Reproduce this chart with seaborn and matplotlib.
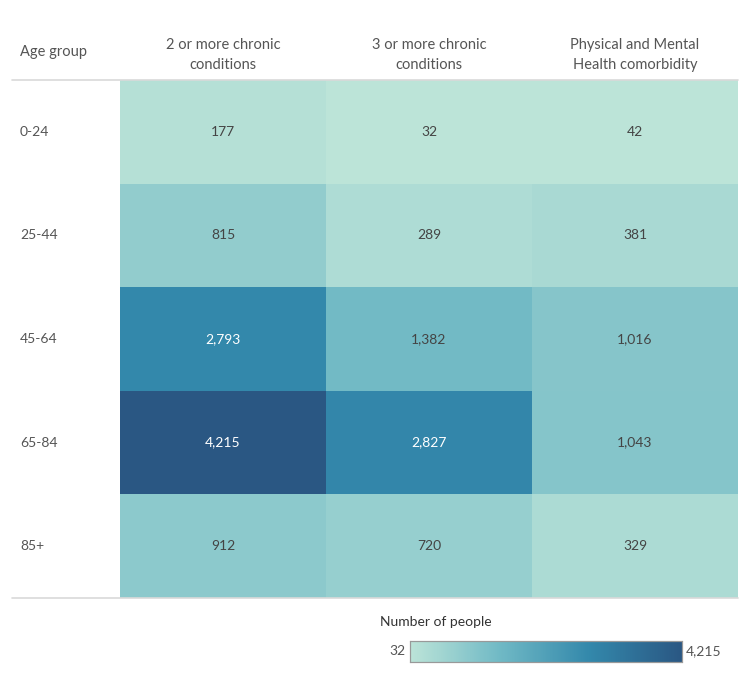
import numpy as np
import pandas as pd
import seaborn as sns
import matplotlib.pyplot as plt
from matplotlib.colors import LinearSegmentedColormap
from matplotlib.lines import Line2D

age_groups = ['0-24', '25-44', '45-64', '65-84', '85+']
measures = ['2 or more chronic\nconditions', '3 or more chronic\nconditions',
            'Physical and Mental\nHealth comorbidity']
two_plus = [177, 815, 2793, 4215, 912]
three_plus = [32, 289, 1382, 2827, 720]
phys_mental = [42, 381, 1016, 1043, 329]

df = pd.DataFrame({measures[0]: two_plus, measures[1]: three_plus,
                   measures[2]: phys_mental}, index=age_groups)

sns.set_theme(style='white')
plt.rcParams['font.family'] = ['Lato', 'DejaVu Sans']
grey = '#555555'

# tableau-ish blue-teal
cmap = LinearSegmentedColormap.from_list(
    'blueteal', [(0, '#bce4d8'), (0.33, '#70b9c5'), (0.66, '#3388ab'), (1, '#2a5783')])

fig = plt.figure(figsize=(7.45, 6.75), dpi=100)
W, H = 745, 675
ax = fig.add_axes([120 / W, (H - 598) / H, 618 / W, 518 / H])
cax = fig.add_axes([410 / W, (H - 662) / H, 272 / W, 21 / H])

vmin, vmax = df.values.min(), df.values.max()
sns.heatmap(df, ax=ax, cmap=cmap, vmin=vmin, vmax=vmax, cbar_ax=cax,
            cbar_kws={'orientation': 'horizontal'}, linewidths=0)

# cell labels
for i, row in enumerate(age_groups):
    for j, col in enumerate(measures):
        v = df.loc[row, col]
        c = 'white' if v > 2000 else '#444444'
        ax.text(j + 0.5, i + 0.5, f'{v:,}', ha='center', va='center',
                fontsize=10, color=c)

ax.xaxis.tick_top()
ax.set_xticklabels(measures, rotation=0, fontsize=10.5, color=grey, linespacing=1.5)
ax.set_yticklabels(age_groups, rotation=0, fontsize=10, color=grey)
for lab in ax.get_yticklabels():
    lab.set_horizontalalignment('left')
ax.tick_params(axis='y', length=0, pad=72)
ax.tick_params(axis='x', length=0, pad=6)
ax.set_xlabel('')
ax.set_ylabel('')

fig.text(20 / W, 1 - 52 / H, 'Age group', ha='left', va='center', fontsize=10.5, color=grey)

# header/footer rules
for yy in (80, 598):
    fig.add_artist(Line2D([12 / W, 738 / W], [1 - yy / H, 1 - yy / H],
                          color='#d9d9d9', lw=1.2))

# colorbar legend
cax.set_xticks([])
cax.set_yticks([])
for s in cax.spines.values():
    s.set_visible(True)
    s.set_color('#999999')
    s.set_linewidth(0.8)
fig.text(380 / W, 1 - 622 / H, 'Number of people', ha='left', va='center',
         fontsize=10, color='#333333')
fig.text(405 / W, 1 - 651 / H, f'{vmin:,}', ha='right', va='center', fontsize=10, color=grey)
fig.text(686 / W, 1 - 651 / H, f'{vmax:,}', ha='left', va='center', fontsize=10, color=grey)

fig.savefig('out.png', dpi=100)
